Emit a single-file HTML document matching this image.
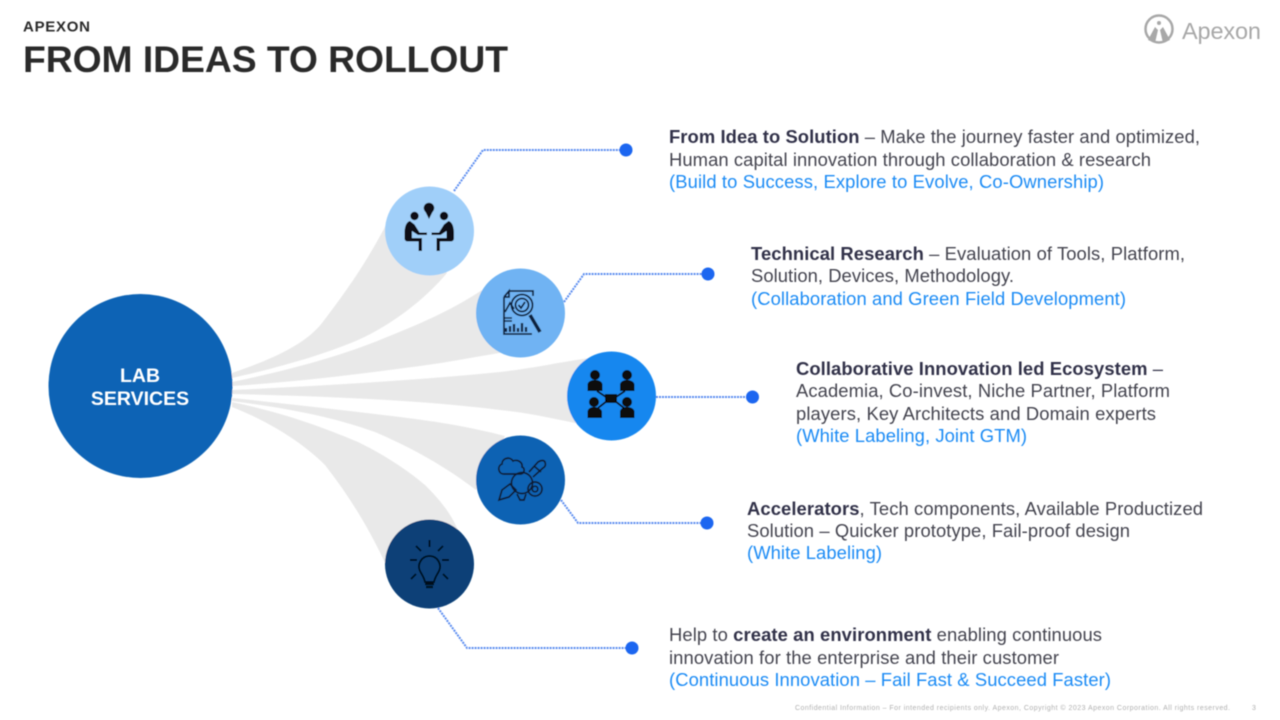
<!DOCTYPE html>
<html><head><meta charset="utf-8"><style>
html,body{margin:0;padding:0;background:#fff;width:1280px;height:720px;overflow:hidden}
svg{display:block;font-family:"Liberation Sans",sans-serif}
.t{font-size:18.4px;fill:#44444f}
.b{font-weight:bold;fill:#33334a}
.l{font-size:18.4px;fill:#1b8bf5}
.c{fill:none;stroke:#5a8cf0;stroke-width:2;stroke-dasharray:2 1}
.g{fill:#e9e9e9}
</style></head><body>
<svg width="1280" height="720" viewBox="0 0 1280 720" xmlns="http://www.w3.org/2000/svg">
<defs><filter id="s" x="-5%" y="-5%" width="110%" height="110%"><feGaussianBlur stdDeviation="0.55"/></filter>
<filter id="f" x="-5%" y="-50%" width="110%" height="200%"><feGaussianBlur stdDeviation="0.5"/></filter></defs>
<g filter="url(#s)">
<!-- bands -->
<path class="g" d="M232 373C270 360 305 345 322 323C345 293 365 265 386 225L447 273C420 305 385 328 358 340C330 352 290 365 232 378Z"/>
<path class="g" d="M232 382C290 370 345 355 387 337C425 322 455 308 482 290L505 352C480 356 450 362 420 366C360 374 295 382 232 386Z"/>
<path class="g" d="M232 390C320 386 420 380 500 372C535 368 560 362 590 358L580 424C550 418 530 413 500 410C420 400 320 396 232 394Z"/>
<path class="g" d="M232 398C290 404 350 411 400 417C440 422 470 427 505 436L476 490C445 466 410 447 375 432C330 416 285 408 232 401Z"/>
<path class="g" d="M232 402C280 412 320 426 358 442C385 455 410 472 425 485C440 500 450 512 458 530L386 565C370 530 350 497 325 465C300 440 265 420 232 407Z"/>
<!-- connectors -->
<path class="c" d="M454 191L483 150H626"/>
<path class="c" d="M564 302L584 274H708"/>
<path class="c" d="M656 397H752"/>
<path class="c" d="M561 500L578 523H707"/>
<path class="c" d="M438 608L467 648H632"/>
<g fill="#1a66f0"><circle cx="626" cy="150" r="6.5"/><circle cx="708" cy="274" r="6.5"/><circle cx="752.500" cy="397" r="6.5"/><circle cx="707" cy="523" r="6.5"/><circle cx="632" cy="648" r="6.5"/></g>
<!-- circles -->
<circle cx="140.500" cy="386" r="92" fill="#0b63b5"/>
<circle cx="429.500" cy="231" r="44.500" fill="#a0cff9"/>
<circle cx="520.500" cy="313" r="44.500" fill="#6fb3f3"/>
<circle cx="611.500" cy="396" r="44.500" fill="#1487ef"/>
<circle cx="520.500" cy="480" r="44.500" fill="#0a62b3"/>
<circle cx="429.500" cy="564" r="44.500" fill="#073f77"/>
<!-- icon 1 -->
<g fill="#0d0d14">
<circle cx="429" cy="208" r="5.300"/><path d="M425 211h8l-4 8z"/>
<circle cx="414.500" cy="216" r="4.200"/><circle cx="444" cy="216" r="4.200"/>
<path d="M410 221c-4 1-5.500 6-5.500 13v4c0 2 1 3.500 3.500 3.500h10.500v9.500h3.500v-13h-10v-7l6 4h9v-2.500h-7.500l-5-8z"/>
<path d="M448.500 221c4 1 5.500 6 5.500 13v4c0 2-1 3.500-3.500 3.500h-10.500v9.500h-3.500v-13h10v-7l-6 4h-9v-2.500h7.500l5-8z"/>
</g>
<!-- icon 2 -->
<g fill="none" stroke="#10233f" stroke-width="1.800">
<path d="M509 291h24v5M504 297v37h28M504 297l5-6v6h-5"/>
<circle cx="522" cy="305" r="10.500"/><circle cx="522" cy="305" r="6.500"/>
<path d="M518.500 305l2.500 3 4-6M505 312l5-9 4 6"/>
<path d="M530 315l10 17" stroke-width="3.600"/>
<path d="M503 318h9M503 321h9" stroke-width="1.500"/>
<path d="M506 332v-4M510 332v-6M514 332v-8M518 332v-4M522 332v-9M526 332v-5" stroke-width="2.300"/>
</g>
<!-- icon 3 -->
<g fill="#07070c">
<circle cx="595" cy="375" r="5"/><circle cx="627" cy="375" r="5"/><circle cx="594" cy="402" r="5"/><circle cx="627" cy="402" r="5"/>
<path d="M587.500 391v-6c0-3 3-5 7.500-5s7.500 2 7.500 5v6z"/><path d="M620 391v-6c0-3 3-5 7-5s7.500 2 7.500 5v6z"/>
<path d="M587.500 418v-6c0-3 3-5 6.500-5s8 2 8 5v6z"/><path d="M620 418v-6c0-3 3-5 7-5s7.500 2 7.500 5v6z"/>
<rect x="605" y="394" width="12" height="9"/>
</g>
<path d="M597 391l9 6M625 391l-9 6M598 408l9-7M624 408l-9-7" stroke="#07070c" stroke-width="1.800" fill="none"/>
<!-- icon 4 -->
<g fill="none" stroke="#0b1a30" stroke-width="1.700">
<path d="M504 474c-6 0-7-8-2-10 0-6 8-8 11-3 4-2 10 1 9 6 3 1 3 6-1 7z"/>
<circle cx="522" cy="483" r="10.500"/>
<path d="M529 472l9-10c3-2 6-2 7 0 1 3 0 5-2 6l-10 9M534 466l7 6"/>
<path d="M499 500l3-10 8-6 6 6-7 7z"/>
<circle cx="535" cy="489" r="7"/><circle cx="535" cy="489" r="2.800"/>
<path d="M517 494l3 6h4l2-6"/>
</g>
<!-- icon 5 -->
<g fill="none" stroke="#060d18" stroke-width="1.800">
<path d="M425 582c-1-5-3-7-5-11-3-6 1-15 9.500-15s12.500 9 9.500 15c-2 4-4 6-5 11z"/>
<path d="M429.500 540v7M416 546l5 5M443 546l-5 5M410 560h7M442 560h7M416 574l-5 5M443 574l5 5"/>
<path d="M425 584h9M426 587h7" stroke-width="2.200"/>
</g>
</g>
<g filter="url(#f)">
<text x="23" y="31.500" font-size="15" font-weight="bold" fill="#2a2a2a" textLength="67">APEXON</text>
<text x="23" y="72" font-size="37.300" font-weight="bold" fill="#2a2a2a" textLength="485">FROM IDEAS TO ROLLOUT</text>

<text x="140" y="382" font-size="19.500" font-weight="bold" fill="#fff" text-anchor="middle">LAB</text>
<text x="140" y="405" font-size="19.500" font-weight="bold" fill="#fff" text-anchor="middle">SERVICES</text>

<text class="t" x="669" y="143" textLength="531"><tspan class="b">From Idea to Solution</tspan> – Make the journey faster and optimized,</text>
<text class="t" x="669" y="166" textLength="482">Human capital innovation through collaboration &amp; research</text>
<text class="l" x="669" y="188" textLength="435">(Build to Success, Explore to Evolve, Co-Ownership)</text>

<text class="t" x="751" y="260" textLength="434"><tspan class="b">Technical Research</tspan> – Evaluation of Tools, Platform,</text>
<text class="t" x="751" y="282" textLength="263">Solution, Devices, Methodology.</text>
<text class="l" x="751" y="305" textLength="375">(Collaboration and Green Field Development)</text>

<text class="t b" x="796" y="375" textLength="367">Collaborative Innovation led Ecosystem <tspan style="font-weight:normal">–</tspan></text>
<text class="t" x="796" y="397" textLength="374">Academia, Co-invest, Niche Partner, Platform</text>
<text class="t" x="796" y="420" textLength="360">players, Key Architects and Domain experts</text>
<text class="l" x="796" y="442" textLength="231">(White Labeling, Joint GTM)</text>

<text class="t" x="747" y="515" textLength="456"><tspan class="b">Accelerators</tspan>, Tech components, Available Productized</text>
<text class="t" x="747" y="537" textLength="383">Solution – Quicker prototype, Fail-proof design</text>
<text class="l" x="747" y="559" textLength="135">(White Labeling)</text>

<text class="t" x="669" y="641" textLength="433">Help to <tspan class="b">create an environment</tspan> enabling continuous</text>
<text class="t" x="669" y="664" textLength="390">innovation for the enterprise and their customer</text>
<text class="l" x="669" y="686" textLength="442">(Continuous Innovation – Fail Fast &amp; Succeed Faster)</text>

<text x="795" y="710" font-size="7" fill="#b0b0b0" textLength="435">Confidential Information – For intended recipients only. Apexon, Copyright © 2023 Apexon Corporation. All rights reserved.</text>
<text x="1252" y="710" font-size="7" fill="#b0b0b0">3</text>

<!-- logo -->
<circle cx="1159" cy="29" r="13.500" fill="none" stroke="#a8a8a8" stroke-width="2.500"/>
<circle cx="1159" cy="23" r="2" fill="#a8a8a8"/>
<path d="M1148 40l7-13 3 3-3 13zM1170 40l-7-13-3 3 3 13z" fill="#a8a8a8"/>
<text x="1182" y="39" font-size="23.500" fill="#a8a8a8" textLength="79">Apexon</text>
</g>
</svg>
</body></html>
